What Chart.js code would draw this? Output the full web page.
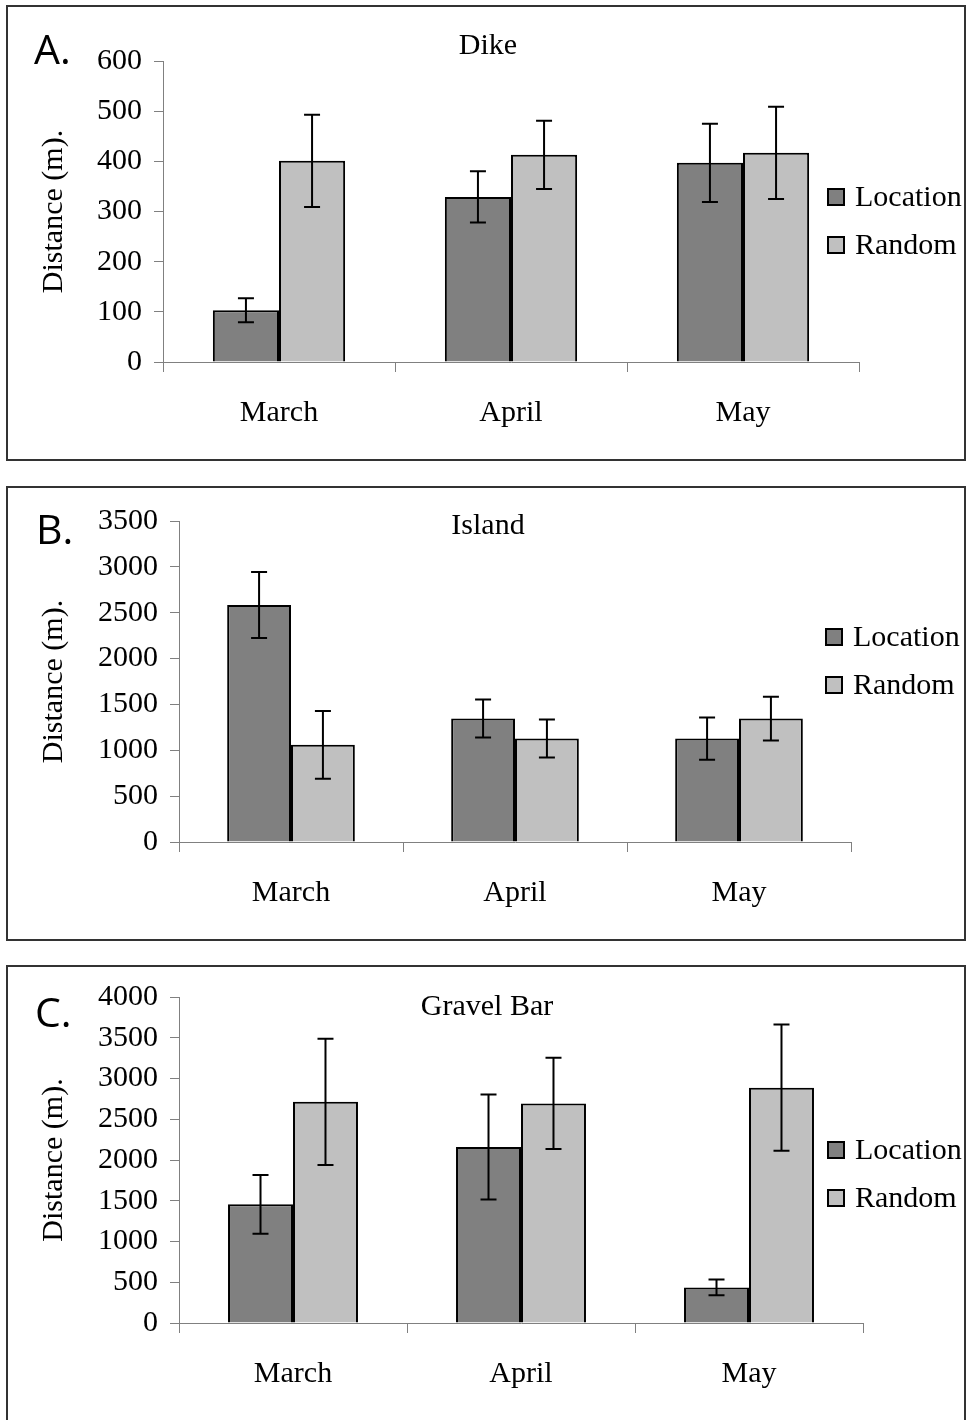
<!DOCTYPE html>
<html>
<head>
<meta charset="utf-8">
<title>Distance by month</title>
<script src="https://cdn.jsdelivr.net/npm/chart.js@4.4.1/dist/chart.umd.min.js"></script>
<style>
  body { margin: 0; background: #fff; width: 969px; height: 1420px; overflow: hidden; position: relative; }
  .panel { position: absolute; left: 6px; width: 956px; border: 2px solid #333; background: #fff; }
  .panel canvas { display: block; }
</style>
</head>
<body>
<div class="panel" style="top:5px;height:452px"><canvas id="dikeChart" width="956" height="452"></canvas></div>
<div class="panel" style="top:486px;height:451px"><canvas id="islandChart" width="956" height="451"></canvas></div>
<div class="panel" style="top:965px;height:462px"><canvas id="gravelChart" width="956" height="452"></canvas></div>
<script>
// months on the x axis
const months = ["March", "April", "May"];

// Dike
const dikeLocation = [103, 329, 397];
const dikeLocationErr = [24, 51, 78];
const dikeRandom = [401, 413, 417];
const dikeRandomErr = [92, 68, 92];

// Island
const islandLocation = [2583, 1346, 1128];
const islandLocationErr = [360, 207, 230];
const islandRandom = [1059, 1128, 1346];
const islandRandomErr = [370, 207, 238];

// Gravel Bar
const gravelLocation = [1456, 2160, 437];
const gravelLocationErr = [360, 645, 97];
const gravelRandom = [2714, 2694, 2888];
const gravelRandomErr = [775, 560, 775];

const serif = { family: "'Liberation Serif', 'Times New Roman', serif", size: 30 };

// whiskers: mean +/- error, drawn through the y scale
const errorBars = {
  id: "errorBars",
  afterDatasetsDraw(chart) {
    const ctx = chart.ctx, y = chart.scales.y;
    chart.data.datasets.forEach((ds, i) => {
      chart.getDatasetMeta(i).data.forEach((bar, j) => {
        const top = y.getPixelForValue(ds.data[j] + ds.errors[j]);
        const bottom = y.getPixelForValue(ds.data[j] - ds.errors[j]);
        ctx.save();
        ctx.strokeStyle = "#000";
        ctx.lineWidth = 2;
        ctx.beginPath();
        ctx.moveTo(bar.x, top); ctx.lineTo(bar.x, bottom);
        ctx.moveTo(bar.x - 8, top); ctx.lineTo(bar.x + 8, top);
        ctx.moveTo(bar.x - 8, bottom); ctx.lineTo(bar.x + 8, bottom);
        ctx.stroke();
        ctx.restore();
      });
    });
  }
};

// panel letter, site title and the legend on the right
const panelLabels = {
  id: "panelLabels",
  afterDraw(chart, args, o) {
    const ctx = chart.ctx;
    ctx.save();
    ctx.fillStyle = "#000";
    ctx.textBaseline = "middle";
    ctx.font = "41px 'Open Sans', sans-serif";
    ctx.textAlign = "left";
    ctx.fillText(o.letter, o.letterX, o.letterY);
    ctx.font = serif.size + "px " + serif.family;
    ctx.textAlign = "center";
    ctx.fillText(o.title, o.titleX, o.titleY);
    ctx.textAlign = "left";
    chart.data.datasets.forEach((ds, i) => {
      const cy = o.legendY + i * 48;
      ctx.fillStyle = ds.backgroundColor;
      ctx.fillRect(o.legendX, cy - 8, 16, 16);
      ctx.strokeStyle = "#000";
      ctx.lineWidth = 2;
      ctx.strokeRect(o.legendX, cy - 8, 16, 16);
      ctx.fillStyle = "#000";
      ctx.fillText(ds.label, o.legendX + 27, cy + 1);
    });
    ctx.restore();
  }
};

function makePanel(id, loc, locErr, rnd, rndErr, yMax, yStep, box, labels) {
  return new Chart(document.getElementById(id), {
    type: "bar",
    data: {
      labels: months,
      datasets: [
        { label: "Location", data: loc, errors: locErr, backgroundColor: "#808080", borderColor: "#000", borderWidth: 2 },
        { label: "Random", data: rnd, errors: rndErr, backgroundColor: "#c0c0c0", borderColor: "#000", borderWidth: 2 }
      ]
    },
    options: {
      responsive: false,
      animation: false,
      layout: { padding: { top: box.top, right: box.right, left: 0, bottom: 0 } },
      datasets: { bar: { categoryPercentage: 0.57, barPercentage: 1.0 } },
      plugins: {
        legend: { display: false },
        tooltip: { enabled: false },
        panelLabels: labels
      },
      scales: {
        x: {
          grid: { drawOnChartArea: false, tickLength: 10, color: "#808080", offset: true },
          border: { color: "#808080", width: 1 },
          ticks: { color: "#000", font: serif, padding: 23, maxRotation: 0 },
          afterFit: s => { s.height = box.xHeight; }
        },
        y: {
          min: 0,
          max: yMax,
          ticks: { stepSize: yStep, color: "#000", font: serif, padding: 12, callback: v => String(v) },
          grid: { drawOnChartArea: false, tickLength: 9, color: "#808080" },
          border: { color: "#808080", width: 1 },
          title: { display: true, text: "Distance (m).", color: "#000", font: serif, padding: { top: 28, bottom: 0 } },
          afterFit: s => { s.width = box.yWidth; }
        }
      }
    },
    plugins: [errorBars, panelLabels]
  });
}

makePanel("dikeChart", dikeLocation, dikeLocationErr, dikeRandom, dikeRandomErr, 600, 100,
  { top: 54, right: 105, xHeight: 97, yWidth: 155 },
  { letter: "A.", letterX: 26, letterY: 45, title: "Dike", titleX: 480, titleY: 39, legendX: 820, legendY: 190 });

makePanel("islandChart", islandLocation, islandLocationErr, islandRandom, islandRandomErr, 3500, 500,
  { top: 33, right: 113, xHeight: 97, yWidth: 171 },
  { letter: "B.", letterX: 28, letterY: 44, title: "Island", titleX: 480, titleY: 38, legendX: 818, legendY: 149 });

makePanel("gravelChart", gravelLocation, gravelLocationErr, gravelRandom, gravelRandomErr, 4000, 500,
  { top: 26, right: 101, xHeight: 96, yWidth: 171 },
  { letter: "C.", letterX: 27, letterY: 48, title: "Gravel Bar", titleX: 479, titleY: 40, legendX: 820, legendY: 183 });
</script>
</body>
</html>
